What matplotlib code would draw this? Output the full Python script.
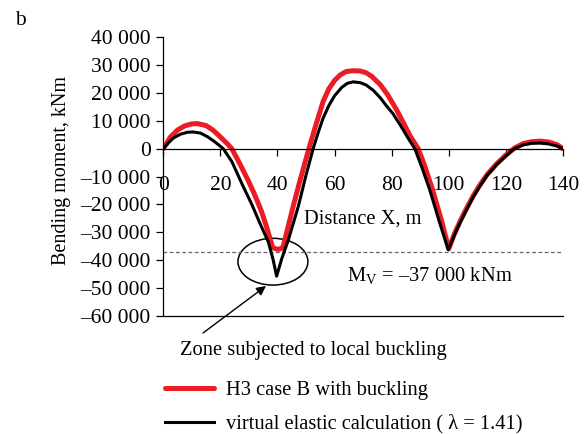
import matplotlib
matplotlib.use('Agg')
from matplotlib import pyplot as plt
from matplotlib.patches import Ellipse

plt.rcParams['font.family'] = ['Liberation Serif', 'DejaVu Serif']
plt.rcParams['mathtext.fontset'] = 'custom'
plt.rcParams['mathtext.rm'] = 'Liberation Serif'
plt.rcParams['font.size'] = 14.8

# H3 case B with buckling (red)
x_red = [0, 2.5, 5, 7.5, 10, 12, 15, 17.5, 20, 22.5, 24, 27, 30, 32, 34.2, 36,
         37.3, 38.3, 40, 41.5, 42, 45.5, 48, 51, 53, 56, 58, 60, 62, 64, 66.5,
         69, 71, 73, 76, 78.5, 81.7, 84, 86.5, 89.3, 91.5, 94.3, 97.5, 100,
         102, 104, 106.2, 108.5, 110.8, 113.5, 116.7, 120, 123, 126, 129, 132,
         135, 138, 140]
m_red = [0, 4200, 6700, 8200, 8900, 9000, 8300, 6600, 4200, 1700, 0, -5800,
         -12000, -16500, -22000, -27500, -32000, -35500, -36200, -35800,
         -35100, -20700, -11000, 0, 7000, 17000, 21500, 24500, 26500, 27700,
         28000, 27900, 27300, 26000, 23000, 19500, 14000, 9500, 4500, 0,
         -6000, -14700, -26000, -36000, -30500, -26000, -21500, -17000,
         -13200, -9200, -5500, -2300, 200, 1800, 2500, 2700, 2400, 1400, 0]

# virtual elastic calculation (black)
x_blk = [0, 2, 3.5, 6, 8.5, 10.5, 13, 15.5, 18, 21, 24, 28, 31, 33.8, 36.8,
         38.5, 39.7, 41.5, 43.8, 47.3, 50, 52.5, 54, 56, 58, 60, 62.5, 64.5,
         66.5, 69, 71, 73.5, 76, 78, 80.5, 83, 85.5, 88.1, 90.5, 93.3, 96.8,
         99.8, 102, 104, 106.2, 108.5, 110.8, 113.5, 116.7, 120, 123, 126,
         129, 132, 135, 138, 140]
m_blk = [0, 2300, 3800, 5200, 5900, 6000, 5600, 4300, 2500, 0, -4600, -13600,
         -20000, -26700, -33500, -40000, -45800, -39500, -32800, -20700,
         -9500, 0, 5000, 11000, 15500, 19000, 22000, 23500, 24000, 23700,
         22900, 21000, 18300, 15600, 12500, 8500, 4200, 0, -6500, -14700,
         -26600, -36300, -31000, -26500, -22000, -17500, -13600, -9500,
         -5800, -2600, 0, 1300, 1900, 2000, 1700, 900, 0]

m_v = -37000

x_ticks = [0, 20, 40, 60, 80, 100, 120, 140]
y_ticks = [40000, 30000, 20000, 10000, 0, -10000, -20000, -30000, -40000,
           -50000, -60000]
y_ticklabels = ['40 000', '30 000', '20 000', '10 000', '0', '\u201310 000',
                '\u201320 000', '\u201330 000', '\u201340 000', '\u201350 000',
                '\u201360 000']

red = '#ec1c24'

fig = plt.figure(figsize=(5.84, 4.34), dpi=100)
ax = fig.add_axes([0.2796, 0.2726, 0.6844, 0.6414])

ax.plot([0, 140], [m_v, m_v], linestyle=(0, (3, 2)), color='#666666',
        linewidth=0.9)
ax.plot(x_red, m_red, color=red, linewidth=3.6, solid_capstyle='round',
        label='H3 case B with buckling')
ax.plot(x_blk, m_blk, color='black', linewidth=2.2,
        label='virtual elastic calculation ( \u03bb = 1.41)')

ax.set_xlim(0, 140)
ax.set_ylim(-60000, 40000)

ax.spines['top'].set_visible(False)
ax.spines['right'].set_visible(False)
ax.spines['bottom'].set_position(('data', 0))
ax.spines['bottom'].set_linewidth(0.9)
ax.spines['left'].set_linewidth(0.9)
ax.axhline(-60000, color='black', linewidth=0.9, clip_on=False)

ax.set_xticks(x_ticks)
ax.set_xticklabels([str(v) for v in x_ticks])
ax.set_yticks(y_ticks)
ax.set_yticklabels(y_ticklabels)
ax.tick_params(axis='x', direction='out', length=5, width=0.9, pad=15,
               labelsize=15.5)
ax.tick_params(axis='y', direction='out', length=5, width=0.9, pad=4,
               labelsize=15.5)

ax.set_ylabel('Bending moment, kNm', fontsize=14.5)
ax.yaxis.set_label_coords(-0.232, 0.522)

ax.text(69.7, -25400, 'Distance X, m', ha='center', va='center')
ax.text(64.2, -45700, 'M$_\\mathrm{V}$ = \u201337 000 kNm',
        ha='left', va='center')

ax.add_patch(Ellipse((38.4, -40600), 24.5, 16800, fill=False,
                     edgecolor='black', linewidth=1.1, clip_on=False))
ax.annotate('', xy=(266, 148), xycoords='figure pixels',
            xytext=(203, 101), textcoords='figure pixels',
            arrowprops=dict(arrowstyle='-|>', color='black', lw=1.0,
                            mutation_scale=14, shrinkA=0, shrinkB=0))

fig.text(313 / 584, 1 - 350 / 434, 'Zone subjected to local buckling',
         ha='center', va='center')
fig.text(15 / 584, 1 - 11 / 434, 'b', ha='left', va='top', fontsize=15.5)

fig.legend(loc='upper left', bbox_to_anchor=(165 / 584, 1 - 381 / 434),
           frameon=False, borderpad=0, borderaxespad=0, handlelength=2.4,
           handletextpad=0.55, labelspacing=0.68)

fig.savefig('out.png', dpi=100)
